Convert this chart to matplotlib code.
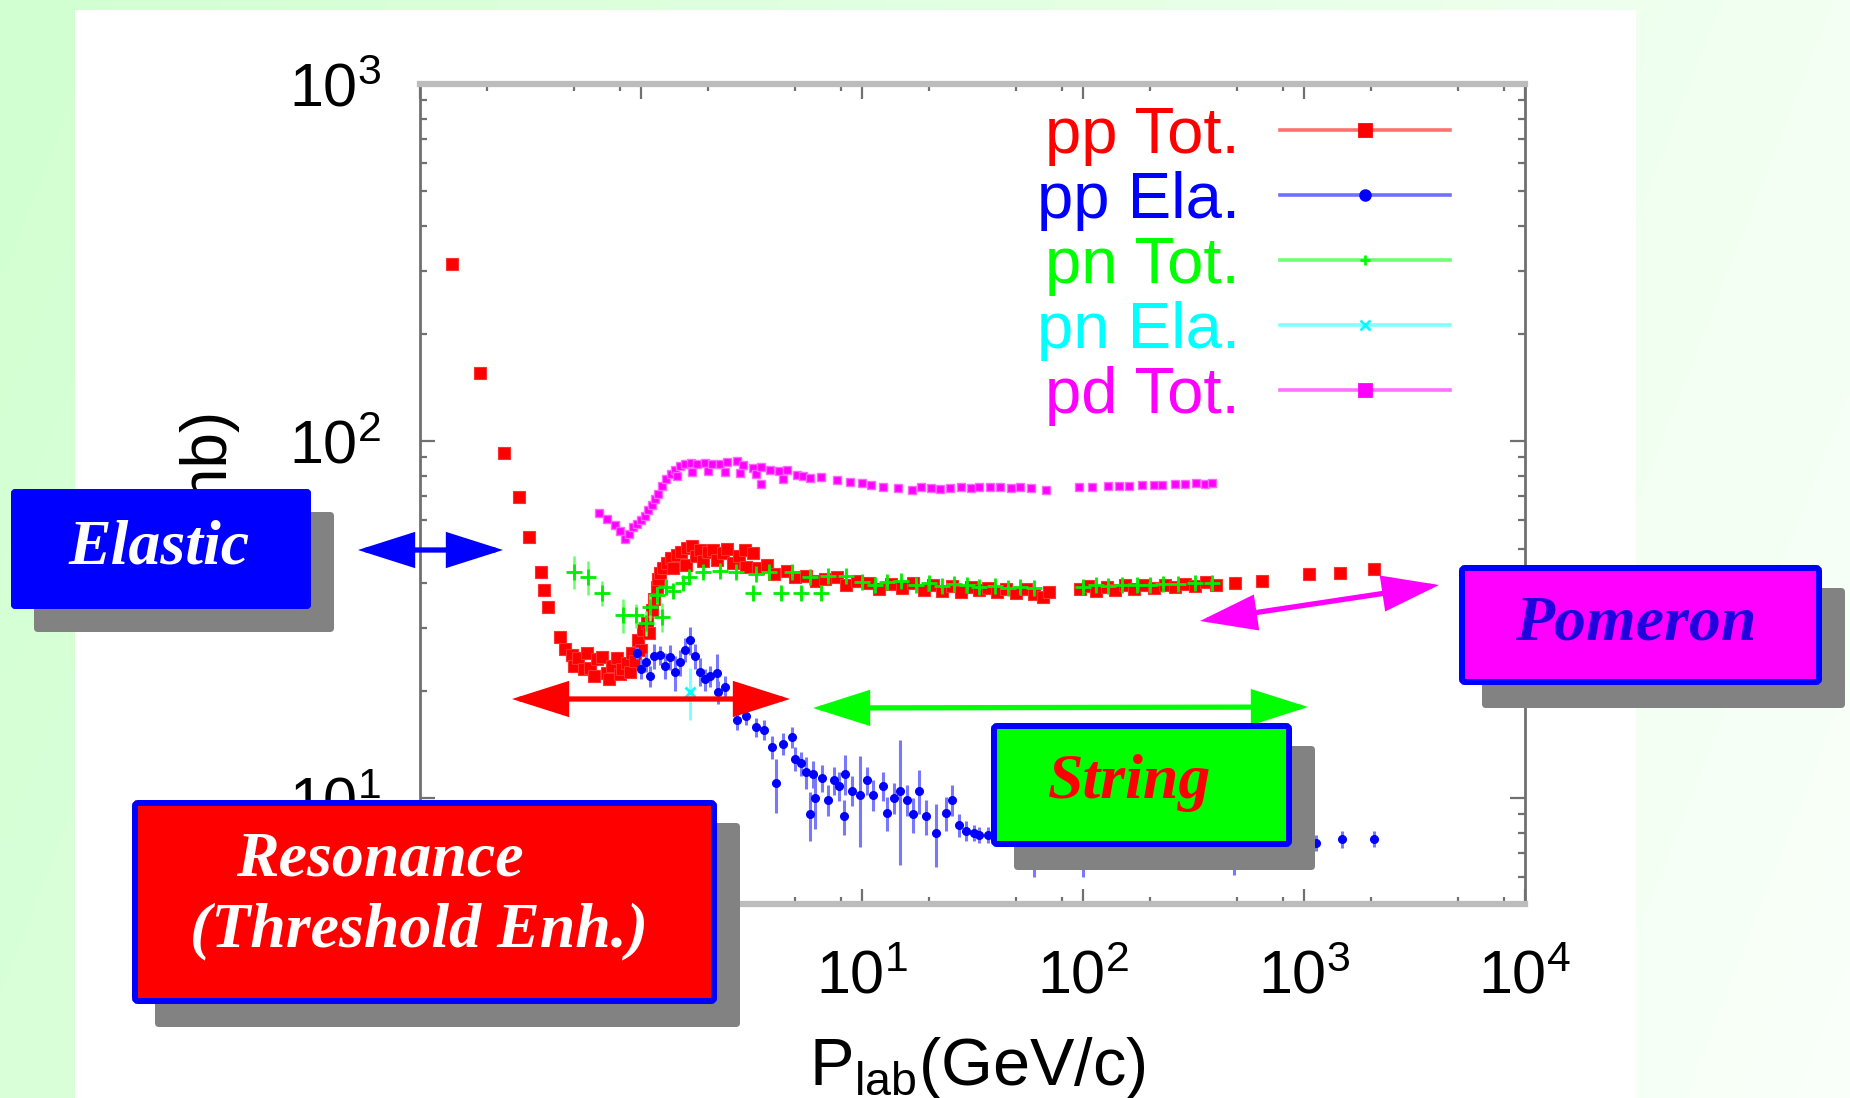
import numpy as np
import matplotlib
matplotlib.use("Agg")
import matplotlib.pyplot as plt
from matplotlib.patches import FancyBboxPatch, FancyArrowPatch, Rectangle
from matplotlib.lines import Line2D
from matplotlib.ticker import LogLocator, LogFormatterMathtext, NullFormatter

# ---------------- data ----------------
pp_tot_x = [0.14, 0.187, 0.24, 0.28, 0.311, 0.352, 0.365, 0.38, 0.43, 0.455, 0.486, 0.50, 0.52, 0.55,
            0.569, 0.59, 0.61, 0.63, 0.665, 0.70, 0.72, 0.74, 0.776, 0.80, 0.82, 0.86, 0.89, 0.91,
            0.94, 0.966, 1.0, 1.02, 1.06, 1.09, 1.12, 1.15, 1.18, 1.20, 1.22, 1.26, 1.31, 1.36, 1.40,
            1.45, 1.52, 1.61, 1.60, 1.70, 1.78, 1.85, 1.90, 2.0, 2.11, 2.2, 2.34, 2.45, 2.6, 2.79,
            2.95, 3.0, 3.2, 3.4, 3.7, 4.0, 4.56, 5.0, 5.6, 6.2, 6.8, 7.7, 8.5, 9.5, 10.8, 12.0, 13.5,
            15.2, 17.0, 19.0, 21.0, 23.0, 25.5, 28.0, 31.0, 34.0, 37.0, 41.0, 45.0, 50.0, 55.0, 60.0,
            66.0, 70.0, 97.0, 105.0, 115.0, 128.0, 140.0, 155.0, 170.0, 190.0, 210.0, 235.0, 260.0,
            290.0, 320.0, 360.0, 400.0, 488.0, 646.0, 1054.0, 1455.0, 2070.0]
pp_tot_y = [313, 155, 92.5, 69.7, 53.8, 43.0, 38.3, 34.3, 28.3, 26.2, 25.2, 23.5, 24.6, 23.0,
            25.5, 23.1, 22.0, 24.5, 24.8, 22.4, 21.6, 23.5, 24.7, 22.2, 23.0, 23.9, 22.5, 25.5,
            24.2, 27.7, 26.0, 29.5, 31.0, 29.0, 33.6, 36.0, 39.0, 41.0, 42.7, 44.0, 45.5, 47.0, 44.0,
            48.0, 49.0, 50.1, 45.0, 50.8, 47.5, 49.5, 46.0, 49.0, 49.5, 46.5, 48.5, 50.0, 45.5, 47.6,
            49.5, 44.5, 48.5, 44.0, 44.9, 42.5, 43.3, 41.5, 41.8, 40.5, 41.0, 41.6, 39.5, 40.5, 40.0,
            38.5, 39.8, 38.8, 40.0, 38.3, 39.5, 38.0, 39.2, 37.8, 39.0, 38.2, 38.8, 37.8, 38.6, 37.6,
            38.4, 37.2, 36.5, 37.8, 38.6, 39.3, 38.0, 39.0, 38.2, 39.4, 38.5, 39.6, 38.8, 39.5, 39.0,
            39.8, 39.2, 40.2, 39.6, 40.0, 40.6, 42.4, 42.7, 43.8]

pp_ela_x = [0.96, 1.0, 1.05, 1.1, 1.15, 1.22, 1.28, 1.35, 1.42, 1.5, 1.58, 1.66, 1.75, 1.85, 1.95,
            2.05, 2.2, 2.22, 2.4, 2.73, 3.0, 3.3, 3.62, 3.9, 4.1, 4.4, 4.8, 4.95, 5.3, 5.6, 5.8, 6.0,
            6.1, 6.6, 7.0, 7.5, 7.9, 8.4, 8.3, 9.0, 9.75, 10.5, 11.2, 12.4, 13.0, 14.0, 14.8, 16.0,
            17.0, 18.2, 19.5, 21.7, 24.0, 25.6, 27.5, 29.6, 32.0, 34.0, 37.0, 40.0, 50.0, 60.0, 70.0,
            100.0, 150.0, 200.0, 300.0, 480.0, 700.0, 1133.0, 1486.0, 2070.0]
pp_ela_y = [25.5, 23.0, 24.0, 22.0, 25.0, 25.1, 23.5, 24.8, 22.5, 24.0, 26.0, 27.7, 25.0, 22.6, 21.5,
            22.0, 22.4, 19.8, 20.5, 16.5, 17.0, 15.8, 15.5, 13.9, 11.0, 14.2, 14.8, 12.9, 12.5, 11.8,
            9.0, 11.7, 10.0, 11.4, 9.9, 11.2, 10.8, 11.7, 8.9, 10.5, 10.2, 11.2, 10.2, 10.8, 9.1, 10.0,
            10.5, 9.9, 9.0, 10.5, 8.9, 8.0, 9.1, 9.9, 8.4, 8.1, 8.0, 7.9, 7.9, 7.8, 7.6, 7.4, 7.3,
            7.2, 7.1, 7.0, 7.0, 7.1, 7.3, 7.5, 7.67, 7.7]
pp_ela_err = [1.0, 1.5, 1.5, 1.5, 2.0, 1.5, 2.0, 2.0, 2.5, 2.0, 2.0, 2.5, 2.0, 2.0, 1.5,
              1.5, 3.0, 1.5, 1.5, 1.0, 1.0, 1.0, 1.0, 1.0, 1.9, 1.0, 1.0, 1.0, 1.0, 1.2,
              1.4, 1.0, 1.8, 1.0, 1.0, 1.0, 1.0, 1.5, 1.0, 1.0, 2.9, 1.0, 1.0, 1.0, 1.0, 1.0,
              4.0, 1.0, 1.0, 1.5, 1.0, 1.6, 1.0, 1.0, 0.6, 0.5, 0.4, 0.4, 0.4, 0.4, 0.5, 1.4, 0.5,
              1.2, 0.5, 0.5, 0.5, 1.0, 0.5, 0.4, 0.4, 0.4]

pn_tot_x = [0.50, 0.574, 0.665, 0.83, 0.95, 1.05, 1.10, 1.18, 1.25, 1.30, 1.40, 1.55, 1.65, 1.9,
            2.27, 2.7, 3.2, 3.3, 3.8, 4.3, 4.8, 5.3, 5.8, 6.5, 7.0, 8.5, 10.0, 11.5, 13.0, 15.0,
            17.5, 20.0, 23.0, 26.0, 30.0, 34.0, 40.0, 46.0, 52.0, 60.0, 100.0, 115.0, 130.0, 150.0,
            175.0, 200.0, 230.0, 270.0, 320.0, 385.0]
pn_tot_y = [43.0, 41.6, 37.5, 32.5, 32.5, 31.0, 34.3, 37.0, 32.1, 39.0, 38.0, 40.0, 41.6, 42.9,
            43.3, 43.0, 37.5, 42.5, 43.0, 37.5, 43.0, 37.5, 41.5, 37.5, 42.0, 41.8, 40.3, 39.5, 40.3,
            40.5, 39.5, 40.0, 39.2, 39.8, 39.4, 39.0, 39.3, 38.8, 39.0, 38.8, 39.0, 39.6, 39.2, 39.5,
            39.4, 39.6, 39.8, 39.7, 39.9, 40.0]
pn_tot_err = [4.5, 4.5, 3.0, 3.5, 2.5, 2.5, 3.0, 2.0, 3.0, 2.0, 1.5, 1.5, 1.0, 1.0,
              1.0, 1.0, 1.5, 1.0, 1.0, 1.5, 1.0, 1.5, 1.0, 1.5, 1.0, 1.0, 1.0, 0.8, 1.0, 0.8,
              0.8, 0.8, 0.8, 0.8, 0.8, 0.8, 0.8, 0.8, 0.8, 0.8, 0.8, 0.8, 0.8, 0.8,
              0.8, 0.8, 0.8, 0.8, 0.8, 0.8]

pn_ela_x = [1.66]
pn_ela_y = [19.8]
pn_ela_err = [3.3]

pd_tot_x = [0.644, 0.70, 0.76, 0.80, 0.85, 0.88, 0.92, 0.96, 1.00, 1.04, 1.08, 1.12, 1.16, 1.20,
            1.25, 1.30, 1.36, 1.42, 1.45, 1.50, 1.58, 1.68, 1.70, 1.80, 1.95, 2.0, 2.1, 2.27, 2.4,
            2.45, 2.71, 2.8, 2.9, 3.2, 3.3, 3.5, 3.5, 3.82, 4.2, 4.4, 4.56, 5.06, 5.38, 5.8, 6.5,
            7.74, 8.8, 9.95, 11.0, 12.5, 14.5, 16.9, 18.5, 20.5, 22.5, 25.0, 28.0, 31.0, 34.0, 38.0,
            42.0, 47.0, 52.0, 58.0, 68.0, 96.0, 110.0, 130.0, 145.0, 162.0, 185.0, 210.0, 228.0,
            260.0, 290.0, 325.0, 355.0, 385.0]
pd_tot_y = [63.0, 60.5, 58.0, 56.0, 53.0, 55.0, 57.5, 58.5, 60.0, 61.5, 64.0, 66.0, 69.0, 71.0,
            75.0, 78.5, 81.0, 83.0, 80.0, 85.0, 86.0, 87.0, 82.0, 86.5, 87.0, 82.5, 86.5, 86.0, 82.0,
            87.5, 88.0, 81.5, 85.5, 84.0, 81.0, 84.5, 76.0, 83.0, 82.5, 78.5, 83.0, 80.5, 79.6, 79.0,
            79.5, 77.8, 76.8, 76.3, 75.2, 74.5, 74.0, 73.0, 74.5, 74.0, 73.5, 74.0, 74.5, 74.0, 74.5,
            74.2, 74.5, 74.0, 74.5, 74.0, 73.0, 74.5, 74.5, 74.8, 75.0, 75.0, 75.5, 75.2, 75.5,
            75.8, 76.0, 76.3, 76.0, 76.3]

legend_labels = ["pp Tot.", "pp Ela.", "pn Tot.", "pn Ela.", "pd Tot."]
legend_colors = ["#ff0000", "#0000ff", "#00ff00", "#00ffff", "#ff00ff"]
legend_lines = ["#ff7070", "#7070ff", "#70ff70", "#80ffff", "#ff70ff"]
legend_markers = ["s", "o", "+", "x", "s"]

# ---------------- figure ----------------
plt.rcParams['font.family'] = ['Liberation Sans', 'DejaVu Sans']
plt.rcParams['mathtext.fontset'] = 'custom'
plt.rcParams['mathtext.rm'] = 'Liberation Sans'
plt.rcParams['mathtext.it'] = 'Liberation Sans:italic'
plt.rcParams['mathtext.bf'] = 'Liberation Sans:bold'

W, H, DPI = 1850, 1098, 100
fig = plt.figure(figsize=(W / DPI, H / DPI), dpi=DPI)


def inch(px, py):
    return px / DPI, (H - py) / DPI


# background gradient
bg = fig.add_axes([0, 0, 1, 1], zorder=-10)
bg.axis('off')
gx, gy = np.meshgrid(np.linspace(0, 1, 300), np.linspace(0, 1, 200))
gc = 0.82 + 0.13 * gx + 0.03 * gy
bg.imshow(np.dstack([gc, np.ones_like(gc), gc]), extent=[0, 1, 0, 1], aspect='auto',
          origin='upper', interpolation='bilinear')
bg.set_xlim(0, 1)
bg.set_ylim(0, 1)

# white panel
x0, y0 = inch(75, H)
x1, y1 = inch(1636, 10)
fig.add_artist(Rectangle((x0, y0), x1 - x0, y1 - y0, transform=fig.dpi_scale_trans,
                         facecolor='white', edgecolor='none', zorder=-5))

# main axes
ax = fig.add_axes([420 / W, 1 - 904 / H, (1525 - 420) / W, (904 - 84) / H], zorder=0)
ax.set_facecolor('white')
ax.set_xscale('log')
ax.set_yscale('log')
ax.set_xlim(0.1, 1e4)
ax.set_ylim(5.05, 1000)

for s in ['top', 'bottom']:
    ax.spines[s].set_color('#bcbcbc')
    ax.spines[s].set_linewidth(4.5)
for s in ['left', 'right']:
    ax.spines[s].set_color('#707070')
    ax.spines[s].set_linewidth(2.0)

ax.xaxis.set_major_locator(LogLocator(base=10, numticks=20))
ax.xaxis.set_minor_locator(LogLocator(base=10, subs=(2, 5, 8), numticks=20))
ax.yaxis.set_major_locator(LogLocator(base=10, numticks=20))
ax.yaxis.set_minor_locator(LogLocator(base=10, subs=np.arange(2, 10), numticks=20))
ax.xaxis.set_major_formatter(LogFormatterMathtext())
ax.yaxis.set_major_formatter(LogFormatterMathtext())
ax.xaxis.set_minor_formatter(NullFormatter())
ax.yaxis.set_minor_formatter(NullFormatter())
ax.tick_params(which='both', direction='in', top=True, right=True, color='#707070',
               labelsize=44, labelcolor='black')
ax.tick_params(which='major', length=11, width=1.6)
ax.tick_params(which='minor', length=5, width=1.6)
ax.tick_params(axis='x', which='major', pad=33)
ax.tick_params(axis='y', which='major', pad=28)

# data
ax.plot(pp_tot_x, pp_tot_y, ls='none', marker='s', ms=9, mfc='#ff0000', mec='#ff3030', mew=0.8,
        zorder=3)
ax.errorbar(pd_tot_x, pd_tot_y, fmt='s', ms=5.5, mfc='#ff00ff', mec='#ff66ff', mew=1.0,
            color='#ff00ff', zorder=3)
ax.errorbar(pn_tot_x, pn_tot_y, yerr=pn_tot_err, fmt='+', ms=11, mew=2.0, color='#00ee00',
            ecolor='#66ff66', elinewidth=1.8, capsize=0, zorder=4)
ax.errorbar(pp_ela_x, pp_ela_y, yerr=pp_ela_err, fmt='o', ms=5.5, mfc='#0000ff', mec='#0000ff',
            color='#0000ff', ecolor='#7878ff', elinewidth=2.2, capsize=0, zorder=5)
ax.errorbar(pn_ela_x, pn_ela_y, yerr=pn_ela_err, fmt='x', ms=7, mew=2.0, color='#00ffff',
            ecolor='#80ffff', elinewidth=2.2, capsize=0, zorder=6)

# legend
handles = [Line2D([], [], color=lc, lw=2.6, marker=m, ms=(8 if m == 's' else 7), mfc=c, mec=c,
                  mew=2)
           for lc, c, m in zip(legend_lines, legend_colors, legend_markers)]
leg = ax.legend(handles, legend_labels, loc='upper right', bbox_to_anchor=(0.932, 0.973),
                frameon=False, markerfirst=False, fontsize=47, handlelength=2.6,
                handletextpad=0.62, labelspacing=0.075, borderpad=0, borderaxespad=0,
                numpoints=1)
for t, c in zip(leg.get_texts(), legend_colors):
    t.set_color(c)

# axis labels (drawn at figure level, partly hidden by the boxes like the original)
fig.text(*inch(210, 411), "\u03c3 (mb)", transform=fig.dpi_scale_trans, rotation=90,
         ha='center', va='top', fontsize=46, zorder=3)
fig.text(*inch(809, 1085), r"P$_{\mathrm{lab}}$(GeV/c)", transform=fig.dpi_scale_trans,
         ha='left', va='baseline', fontsize=48, zorder=3)


# annotation boxes
def draw_box(bx0, by0, bx1, by1, face, edge, lw_px, off=23):
    w = (bx1 - bx0) / DPI
    h = (by1 - by0) / DPI
    sx, sy = inch(bx0 + off, by1 + off)
    fig.add_artist(FancyBboxPatch((sx, sy), w, h, boxstyle='round,pad=0,rounding_size=0.04',
                                  transform=fig.dpi_scale_trans, fc='#828282', ec='none',
                                  zorder=20))
    ins = lw_px / 2.0
    px, py = inch(bx0 + ins, by1 - ins)
    fig.add_artist(FancyBboxPatch((px, py), w - 2 * ins / DPI, h - 2 * ins / DPI,
                                  boxstyle='round,pad=0,rounding_size=0.03',
                                  transform=fig.dpi_scale_trans, fc=face, ec=edge,
                                  lw=lw_px * 72 / DPI, zorder=21))


def box_text(x, y, s, color):
    fig.text(*inch(x, y), s, transform=fig.dpi_scale_trans, ha='center', va='baseline',
             fontsize=46, color=color, family=['Liberation Serif', 'DejaVu Serif'],
             weight='bold', style='italic', zorder=22)


def arrow(xa, ya, xb, yb, color):
    fig.add_artist(FancyArrowPatch(inch(xa, ya), inch(xb, yb), transform=fig.dpi_scale_trans,
                                   arrowstyle='<|-|>,head_length=33,head_width=10.5',
                                   mutation_scale=1, lw=3.8, color=color, shrinkA=0,
                                   shrinkB=0, joinstyle='miter', zorder=15))


arrow(358, 550, 503, 550, '#0000ff')
arrow(512, 699, 790, 699, '#ff0000')
arrow(813, 708, 1308, 707, '#00ff00')
arrow(1200, 621, 1439, 585, '#ff00ff')

draw_box(11, 489, 311, 609, '#0000ff', '#0000ff', 2)
box_text(159, 563, "Elastic", 'white')

draw_box(1459, 565, 1822, 685, '#ff00ff', '#0000ff', 6)
box_text(1636, 640, "Pomeron", '#2200dd')

draw_box(991, 723, 1292, 847, '#00ff00', '#0000ff', 6)
box_text(1130, 798, "String", '#ff0000')

draw_box(132, 800, 717, 1004, '#ff0000', '#0000ff', 6)
box_text(380, 875, "Resonance", 'white')
box_text(419, 946, "(Threshold Enh.)", 'white')

fig.savefig("out.png", dpi=DPI)
